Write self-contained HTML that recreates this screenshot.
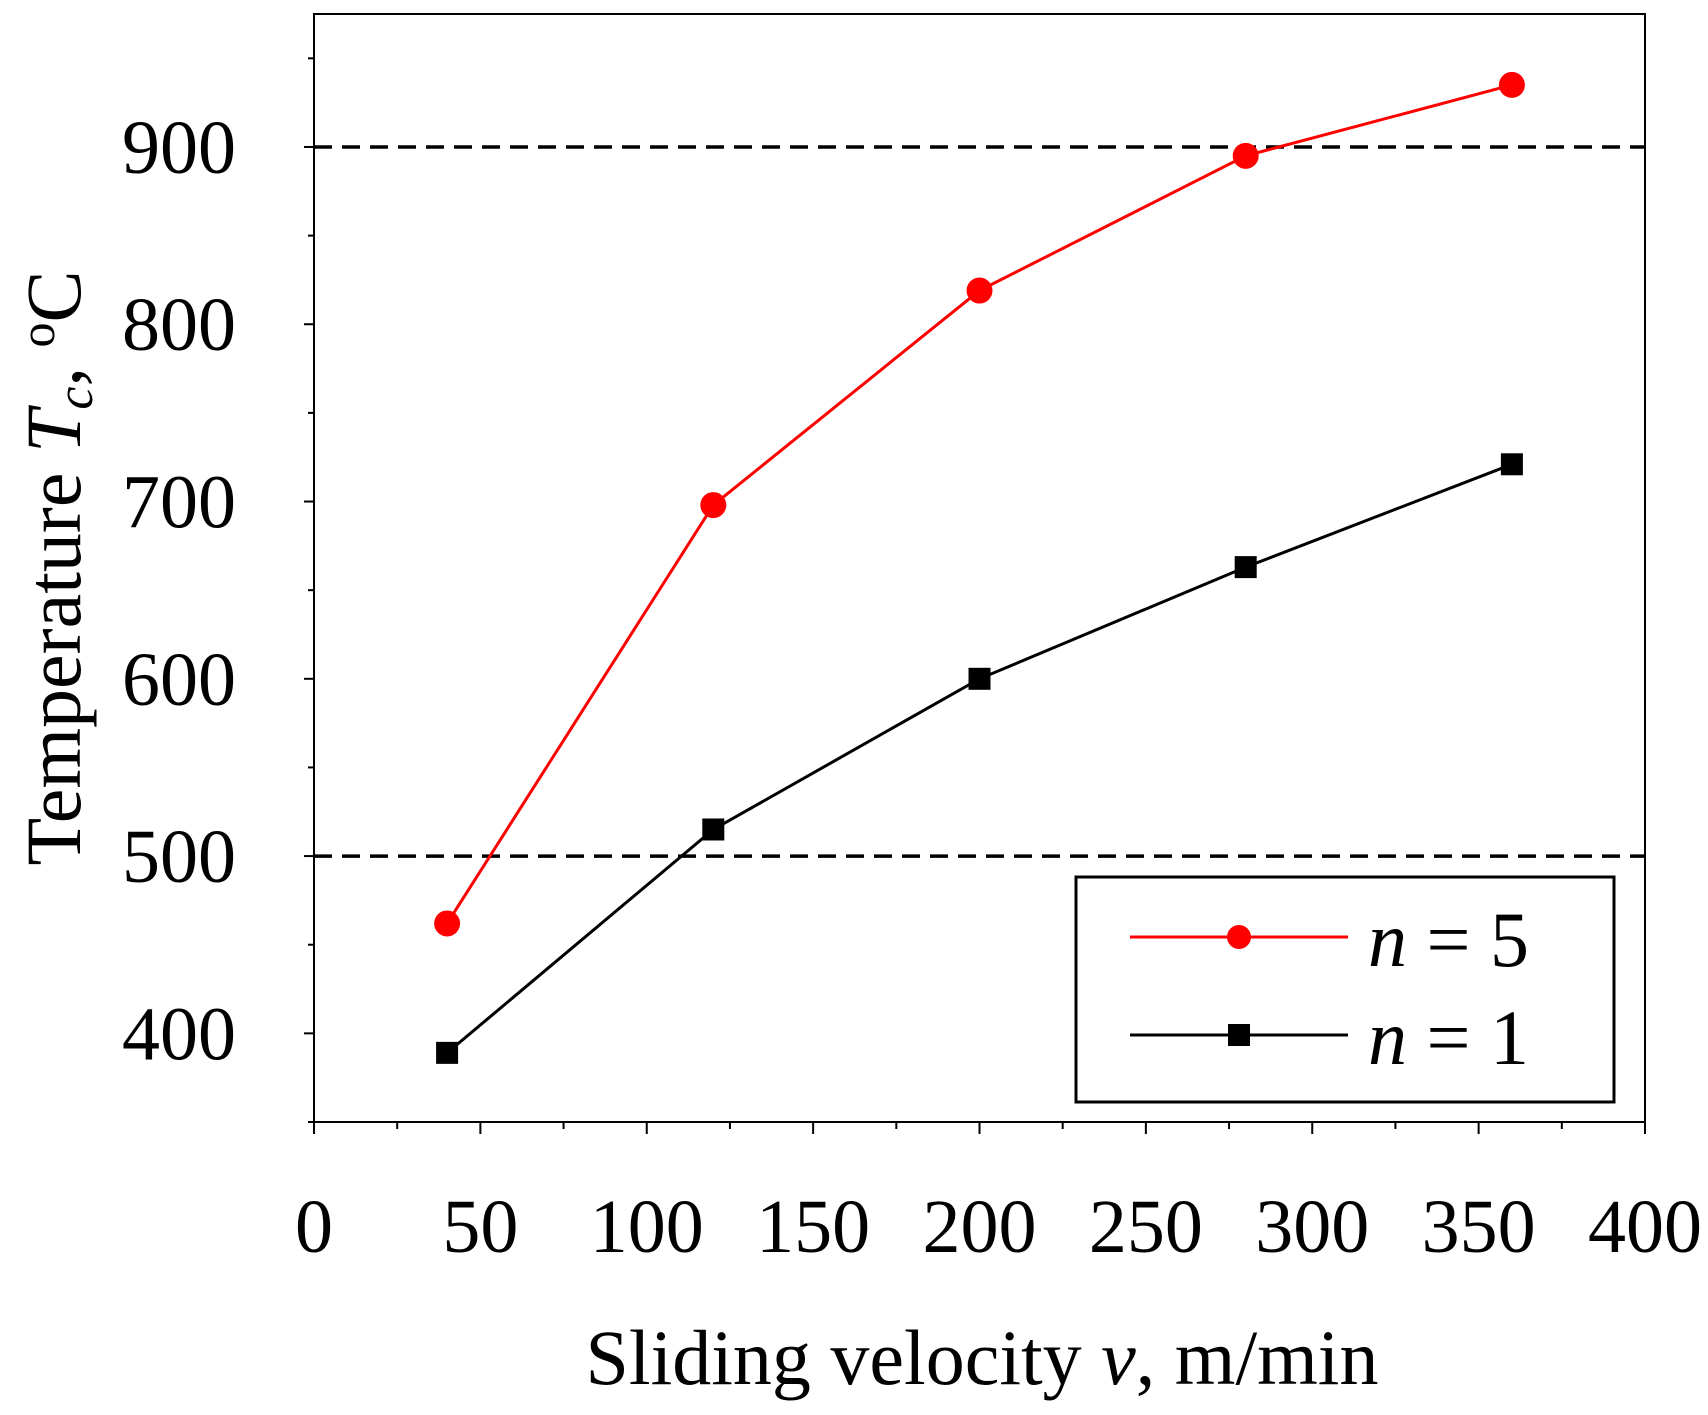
<!DOCTYPE html>
<html><head><meta charset="utf-8"><style>
html,body{margin:0;padding:0;background:#fff}
svg{display:block}
text{font-family:"Liberation Serif",serif;fill:#000}
</style></head><body>
<svg id="chart" width="1708" height="1415" viewBox="0 0 1708 1415" xmlns="http://www.w3.org/2000/svg">
<g id="axes"></g>
<g id="series"></g>
<g id="legend">
  <rect x="1076" y="877" width="538" height="225" fill="#fff" stroke="#000" stroke-width="3"/>
  <line x1="1130" y1="937" x2="1348" y2="937" stroke="#f00" stroke-width="3"/>
  <circle cx="1239" cy="937" r="12" fill="#f00"/>
  <text x="1368" y="966" font-size="78"><tspan font-style="italic">n</tspan> = 5</text>
  <line x1="1130" y1="1035" x2="1348" y2="1035" stroke="#000" stroke-width="3"/>
  <rect x="1228" y="1024" width="22" height="22" fill="#000"/>
  <text x="1368" y="1064" font-size="78"><tspan font-style="italic">n</tspan> = 1</text>
</g>
<text x="982" y="1384" font-size="78" text-anchor="middle">Sliding velocity <tspan font-style="italic">v</tspan>, m/min</text>
<text transform="translate(80,568) rotate(-90)" font-size="78" text-anchor="middle">Temperature <tspan font-style="italic">T</tspan><tspan font-style="italic" font-size="52" dy="12">c</tspan><tspan dy="-12">, </tspan><tspan font-size="50" dy="-26">o</tspan><tspan dy="26">C</tspan></text>
</svg>
<script>
const velocities = [40, 120, 200, 280, 360];
const tempN5 = [462, 698, 819, 895, 935];
const tempN1 = [389, 515, 600, 663, 721];
const xTicks = [0, 50, 100, 150, 200, 250, 300, 350, 400];
const yTicks = [400, 500, 600, 700, 800, 900];
const refLines = [500, 900];

const L=314, R=1645, T=14, B=1122;
const xMin=0, xMax=400, yMin=350, yMax=975;
const sx = v => L + (v-xMin)/(xMax-xMin)*(R-L);
const sy = v => B - (v-yMin)/(yMax-yMin)*(B-T);
const NS="http://www.w3.org/2000/svg";
function mk(tag, attrs, parent){const e=document.createElementNS(NS,tag);for(const k in attrs)e.setAttribute(k,attrs[k]);parent.appendChild(e);return e;}
const axes=document.getElementById('axes'), series=document.getElementById('series');

let e;
e=mk('rect',{x:L,y:T,width:R-L,height:B-T,fill:'none',stroke:'#000','stroke-width':2},axes);



for(let v=xMin; v<=xMax; v+=25){
  const major = v%50===0;
  e=mk('line',{x1:sx(v),y1:B,x2:sx(v),y2:B+(major?12:7),stroke:'#000','stroke-width':2},axes);
  
  
}
xTicks.forEach(v=>{
  e=mk('text',{x:sx(v),y:1252,'font-size':76,'text-anchor':'middle'},axes);
  e.textContent=v;
  
  
});
for(let v=yMin; v<=yMax; v+=50){
  const major = v%100===0;
  e=mk('line',{x1:L-(major?10:6),y1:sy(v),x2:L,y2:sy(v),stroke:'#000','stroke-width':2},axes);
  
  
}
yTicks.forEach(v=>{
  e=mk('text',{x:236,y:sy(v)+26,'font-size':76,'text-anchor':'end'},axes);
  e.textContent=v;
  
  
});
refLines.forEach(v=>{
  e=mk('line',{x1:L,y1:sy(v),x2:R,y2:sy(v),stroke:'#000','stroke-width':3.5,'stroke-dasharray':'18,10'},axes);
  
  
});

function pts(arr){return velocities.map((v,i)=>sx(v)+','+sy(arr[i])).join(' ');}
e=mk('polyline',{points:pts(tempN5),fill:'none',stroke:'#f00','stroke-width':3},series);


e=mk('polyline',{points:pts(tempN1),fill:'none',stroke:'#000','stroke-width':3},series);


velocities.forEach((v,i)=>{
  e=mk('circle',{cx:sx(v),cy:sy(tempN5[i]),r:13,fill:'#f00'},series);
  
  
  e=mk('rect',{x:sx(v)-11,y:sy(tempN1[i])-11,width:22,height:22,fill:'#000'},series);
  
  
});
</script>
</body></html>
